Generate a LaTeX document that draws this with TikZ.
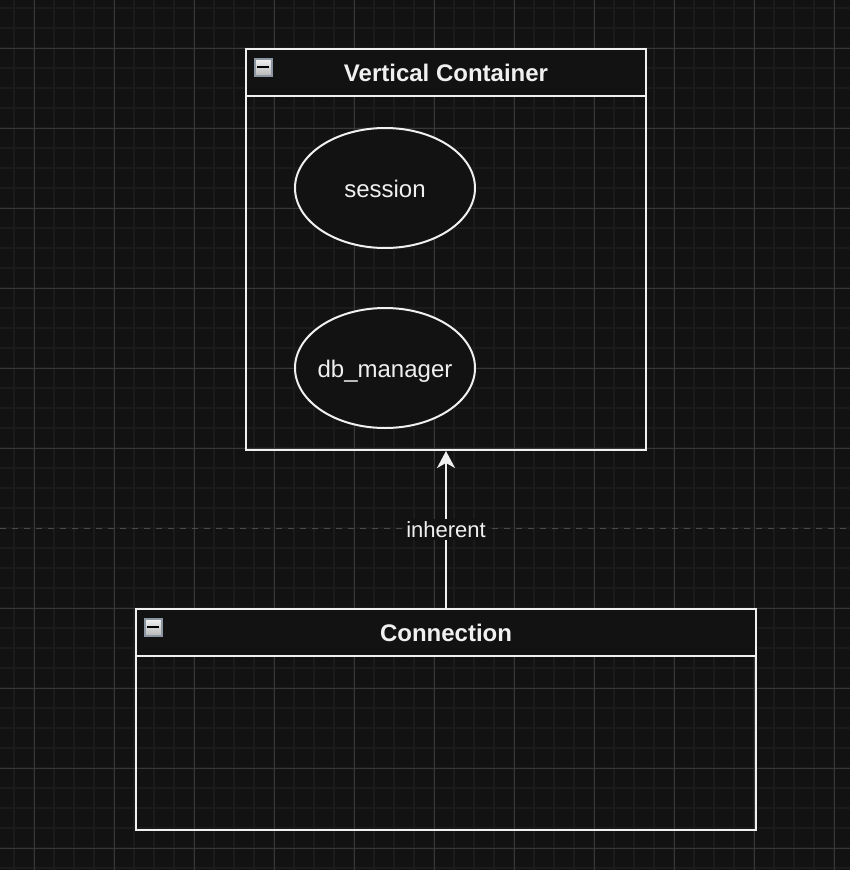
\documentclass[tikz,border=0pt]{standalone}
\usepackage{fontspec}
\setmainfont{Liberation Sans}
\usetikzlibrary{arrows.meta,shapes.geometric}
\tikzset {>=Stealth}
\definecolor{bg}{HTML}{121212}
\definecolor{minorln}{HTML}{1B1B1B}
\definecolor{majorln}{HTML}{373737}
\definecolor{ink}{HTML}{F0F0F0}
\definecolor{pagebreak}{HTML}{4A4A4A}
\definecolor{iconrim}{HTML}{8C96A3}
\tikzset{
  container/.style={draw=ink,line width=2pt,inner sep=0pt,anchor=north west},
  header/.style={draw=ink,fill=bg,line width=2pt,inner sep=0pt,anchor=north west,
    minimum height=47pt,text=ink,font=\bfseries\fontsize{24}{28}\selectfont},
  usecase/.style={ellipse,draw=ink,fill=bg,line width=2pt,minimum width=180pt,
    minimum height=120pt,inner xsep=-5pt,text height=18pt,text depth=0pt,
    text=ink,font=\fontsize{24}{28}\selectfont},
  collapser/.style={draw=iconrim,line width=1.5pt,top color=white!95!black,
    bottom color=white!72!black,minimum size=17pt,inner sep=0pt,anchor=north west,
    path picture={\draw[black,line width=2pt]
      ([xshift=-6pt]path picture bounding box.center) --
      ([xshift=6pt]path picture bounding box.center);}},
}

\begin{document}
\begin{tikzpicture}[x=1pt,y=-1pt]
\fill[bg] (0,0) rectangle (850,870);
\useasboundingbox (0,0) rectangle (850,870);
% grid
\foreach \x in {14,34,...,834} \draw[minorln,line width=1.2pt] (\x,0) -- (\x,870);
\foreach \y in {8,28,...,868} \draw[minorln,line width=1.2pt] (0,\y) -- (850,\y);
\foreach \x in {34,114,...,834} \draw[majorln,line width=1pt] (\x,0) -- (\x,870);
\foreach \y in {48,128,...,448,608,688,...,848} \draw[majorln,line width=1pt] (0,\y) -- (850,\y);
\draw[pagebreak,line width=1pt,dash pattern=on 6pt off 6pt] (0,528) -- (850,528);
% vertical container
\node[container,minimum width=400pt,minimum height=401pt] (vc) at (245,48) {};
\node[header,minimum width=400pt] (vchead) at (vc.north west) {Vertical Container};
\node[collapser] (vcicon) at ([shift={(9pt,-10pt)}]vc.north west) {};
\node[usecase] (session) at (385,188) {session};
\node[usecase] (dbman) at (385,368) {db\_manager};
% connection
\node[container,minimum width=620pt,minimum height=221pt] (conn) at (135,608) {};
\node[header,minimum width=620pt] (connhead) at (conn.north west) {Connection};
\node[collapser] (connicon) at ([shift={(9pt,-10pt)}]conn.north west) {};
\draw[ink,line width=2pt,-{Stealth[length=17pt,width=18pt,inset=5pt]}] (connhead.north) --
  node[fill=bg,text=ink,inner sep=2pt,font=\fontsize{22}{26}\selectfont] {inherent}
  (vc.south);
\end{tikzpicture}
\end{document}
